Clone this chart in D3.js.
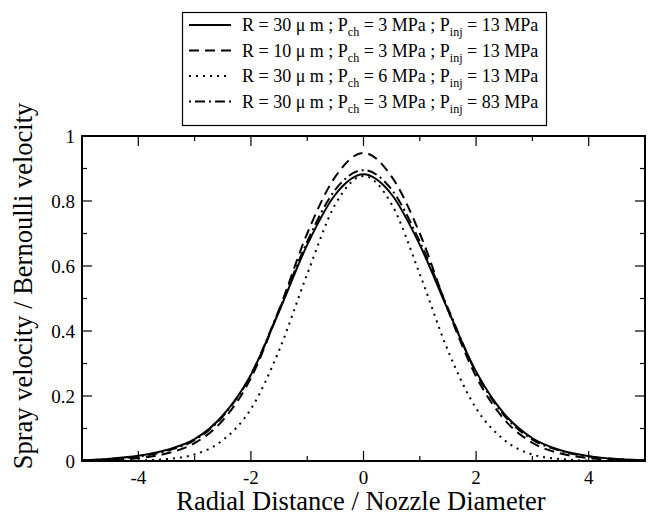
<!DOCTYPE html>
<html>
<head>
<meta charset="utf-8">
<script src="https://cdn.jsdelivr.net/npm/d3@7"></script>
<style>
  body { margin: 0; background: white; }
</style>
</head>
<body>
<div id="canvas"></div>
<script>
"use strict"

let svgWidth = 654
let svgHeight = 515
let plotLeft = 82
let plotRight = 645
let plotTop = 136
let plotBottom = 461
let serifFont = "'Liberation Serif', 'DejaVu Serif', serif"

/* Data: radial distance vs normalised velocity */
let xValues = [-5, -4.5, -4, -3.5, -3, -2.5, -2, -1.5, -1, -0.5, 0,
    0.5, 1, 1.5, 2, 2.5, 3, 3.5, 4, 4.5, 5]

// R = 30, Pch = 3, Pinj = 13
let solidValues = [0.002, 0.007, 0.016, 0.034, 0.067, 0.14, 0.265, 0.46, 0.665, 0.82, 0.882,
    0.82, 0.665, 0.465, 0.275, 0.145, 0.07, 0.033, 0.015, 0.006, 0.002]
// R = 10, Pch = 3, Pinj = 13
let dashedValues = [0.001, 0.003, 0.009, 0.023, 0.055, 0.125, 0.255, 0.465, 0.70, 0.875, 0.948,
    0.875, 0.70, 0.465, 0.26, 0.128, 0.056, 0.023, 0.009, 0.003, 0.001]
// R = 30, Pch = 6, Pinj = 13
let dottedValues = [0, 0.0002, 0.0015, 0.006, 0.02, 0.064, 0.16, 0.34, 0.575, 0.79, 0.877,
    0.79, 0.575, 0.34, 0.162, 0.065, 0.02, 0.006, 0.0015, 0.0002, 0]
// R = 30, Pch = 3, Pinj = 83
let dashDotValues = [0.002, 0.006, 0.014, 0.031, 0.064, 0.137, 0.265, 0.465, 0.675, 0.835, 0.895,
    0.835, 0.675, 0.47, 0.272, 0.14, 0.066, 0.031, 0.014, 0.006, 0.002]

let xTicks = [-4, -2, 0, 2, 4]
let xMinorTicks = [-5, -3, -1, 1, 3, 5]
let yTicks = [0, 0.2, 0.4, 0.6, 0.8, 1]
let yTickLabels = ["0", "0.2", "0.4", "0.6", "0.8", "1"]
let yMinorTicks = [0.1, 0.3, 0.5, 0.7, 0.9]

let legendR = ["30", "10", "30", "30"]
let legendPch = ["3", "3", "6", "3"]
let legendPinj = ["13", "13", "13", "83"]

let series = [
    {values: solidValues, dash: null},
    {values: dashedValues, dash: "10,6"},
    {values: dottedValues, dash: "2,5"},
    {values: dashDotValues, dash: "2,4,10,4"}
]

/* Create drawing canvas */
let svg = d3.select("#canvas")
    .append("svg")
    .attr("width", svgWidth)
    .attr("height", svgHeight)
    .attr("font-family", serifFont)

svg.append("rect")
    .attr("width", svgWidth)
    .attr("height", svgHeight)
    .attr("fill", "white")

/* Scales */
let xScale = d3.scaleLinear()
    .domain([-5, 5])
    .range([plotLeft, plotRight])

let yScale = d3.scaleLinear()
    .domain([0, 1])
    .range([plotBottom, plotTop])

/* Curves */
let line = d3.line()
    .x(function (d) { return xScale(d[0]) })
    .y(function (d) { return yScale(d[1]) })
    .curve(d3.curveMonotoneX)

series.forEach(function (s) {
    svg.append("path")
        .datum(xValues.map(function (x, i) { return [x, s.values[i]] }))
        .attr("d", line)
        .attr("fill", "none")
        .attr("stroke", "black")
        .attr("stroke-width", 2)
        .attr("stroke-dasharray", s.dash)
})

/* Ticks (inward, on all four sides) */
function tickMarks(values, len) {
    values.forEach(function (v) {
        svg.append("line")
            .attr("x1", xScale(v)).attr("x2", xScale(v))
            .attr("y1", plotBottom).attr("y2", plotBottom - len)
            .attr("stroke", "black").attr("stroke-width", 1.2)
        svg.append("line")
            .attr("x1", xScale(v)).attr("x2", xScale(v))
            .attr("y1", plotTop).attr("y2", plotTop + len)
            .attr("stroke", "black").attr("stroke-width", 1.2)
    })
}
function yTickMarks(values, len) {
    values.forEach(function (v) {
        svg.append("line")
            .attr("x1", plotLeft).attr("x2", plotLeft + len)
            .attr("y1", yScale(v)).attr("y2", yScale(v))
            .attr("stroke", "black").attr("stroke-width", 1.2)
        svg.append("line")
            .attr("x1", plotRight).attr("x2", plotRight - len)
            .attr("y1", yScale(v)).attr("y2", yScale(v))
            .attr("stroke", "black").attr("stroke-width", 1.2)
    })
}
tickMarks(xTicks, 10)
tickMarks(xMinorTicks, 5)
yTickMarks(yTicks, 10)
yTickMarks(yMinorTicks, 5)

/* Plot frame */
svg.append("rect")
    .attr("x", plotLeft)
    .attr("y", plotTop)
    .attr("width", plotRight - plotLeft)
    .attr("height", plotBottom - plotTop)
    .attr("fill", "none")
    .attr("stroke", "black")
    .attr("stroke-width", 2)

/* Tick labels */
xTicks.forEach(function (v) {
    svg.append("text")
        .attr("x", xScale(v))
        .attr("y", 484)
        .attr("text-anchor", "middle")
        .attr("font-size", 19)
        .text(v < 0 ? "-" + Math.abs(v) : v)
})

yTicks.forEach(function (v, i) {
    svg.append("text")
        .attr("x", plotLeft - 7)
        .attr("y", yScale(v) + 7)
        .attr("text-anchor", "end")
        .attr("font-size", 19)
        .text(yTickLabels[i])
})

/* Axis titles */
svg.append("text")
    .attr("x", 361)
    .attr("y", 510)
    .attr("text-anchor", "middle")
    .attr("font-size", 26.5)
    .text("Radial Distance / Nozzle Diameter")

svg.append("text")
    .attr("transform", "translate(32,286) rotate(-90)")
    .attr("text-anchor", "middle")
    .attr("font-size", 26.5)
    .text("Spray velocity / Bernoulli velocity")

/* Legend */
svg.append("rect")
    .attr("x", 182.5)
    .attr("y", 12.5)
    .attr("width", 364)
    .attr("height", 113)
    .attr("fill", "white")
    .attr("stroke", "black")
    .attr("stroke-width", 1.2)

series.forEach(function (s, i) {
    let rowY = 25 + i * 25.5

    svg.append("line")
        .attr("x1", 189).attr("x2", 231)
        .attr("y1", rowY).attr("y2", rowY)
        .attr("stroke", "black")
        .attr("stroke-width", 2)
        .attr("stroke-dasharray", s.dash)

    let t = svg.append("text")
        .attr("x", 242)
        .attr("y", rowY + 6)
        .attr("font-size", 18)
    t.append("tspan").text("R = " + legendR[i] + " \u03bc m ;  P")
    t.append("tspan").attr("dy", 5).attr("font-size", 12).text("ch")
    t.append("tspan").attr("dy", -5).text(" = " + legendPch[i] + " MPa ; P")
    t.append("tspan").attr("dy", 5).attr("font-size", 12).text("inj")
    t.append("tspan").attr("dy", -5).text(" = " + legendPinj[i] + " MPa")
})
</script>
</body>
</html>
